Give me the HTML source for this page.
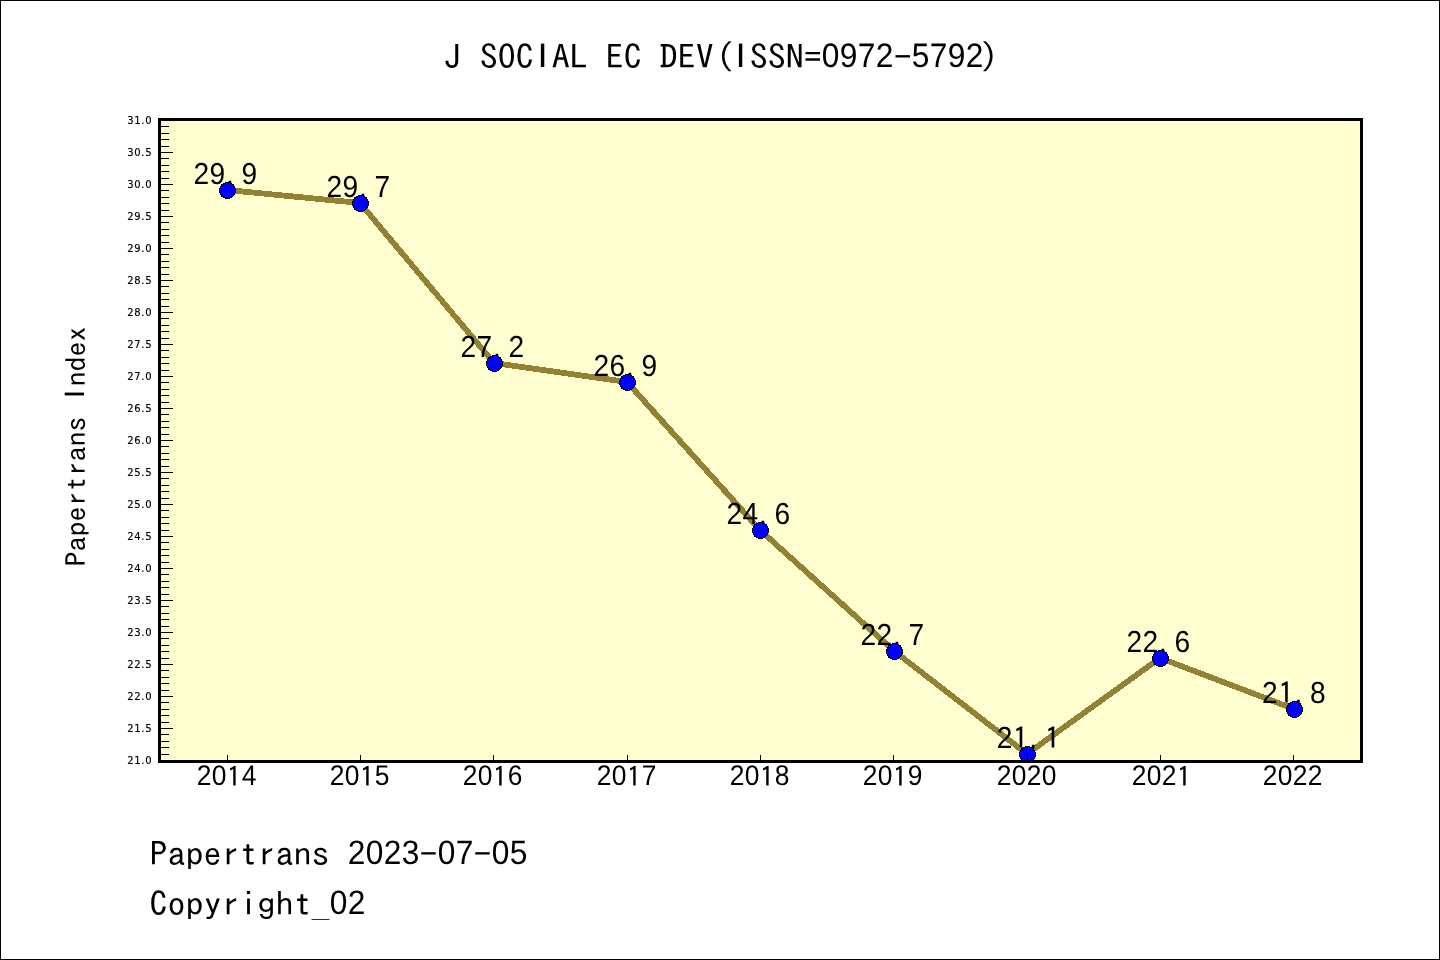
<!DOCTYPE html>
<html lang="en">
<head>
<meta charset="utf-8">
<title>J SOCIAL EC DEV(ISSN=0972-5792)</title>
<style>
html,body{margin:0;padding:0;background:#fff;}
body{width:1440px;height:960px;overflow:hidden;position:relative;}
svg{position:absolute;left:0;top:0;display:block;}
text{white-space:pre;fill:#000;}
.cj{font-family:"IPAGothic", "Liberation Mono", monospace;text-rendering:geometricPrecision;}
.lb{font-family:"Liberation Sans","IPAGothic",sans-serif;}
.dv{font-family:"DejaVu Sans","Liberation Sans",sans-serif;stroke:#000;stroke-width:0.15px;}
</style>
</head>
<body>
<svg width="1440" height="960" viewBox="0 0 1440 960">
<defs><clipPath id="plot"><rect x="161" y="121" width="1199" height="639"/></clipPath></defs>

<!-- page frame and plot background -->
<rect x="0.5" y="0.5" width="1439" height="959" fill="#ffffff" stroke="#000" stroke-width="1" shape-rendering="crispEdges"/>
<rect x="158" y="118" width="1205" height="645" fill="#fffed0" shape-rendering="crispEdges"/>
<!-- data line -->
<polyline points="227,190 360,203 494,363 627,382 760,530 894,651 1027,754 1160,658 1294,709" fill="none" stroke="#948234" stroke-width="5.8" stroke-linejoin="round" shape-rendering="crispEdges" clip-path="url(#plot)"/>
<!-- value labels -->
<text class="cj" font-size="32" transform="matrix(1 0 0 0.9328 0 185.42)"><tspan class="lb" font-size="32.57" x="193.57 209.57 226.04 241.57" y="-1.62" textLength="54.81" lengthAdjust="spacingAndGlyphs">29.9</tspan></text>
<text class="cj" font-size="32" transform="matrix(1 0 0 0.9328 0 198.42)"><tspan class="lb" font-size="32.57" x="326.57 342.57 359.04 374.57" y="-1.62" textLength="54.81" lengthAdjust="spacingAndGlyphs">29.7</tspan></text>
<text class="cj" font-size="32" transform="matrix(1 0 0 0.9328 0 358.42)"><tspan class="lb" font-size="32.57" x="460.57 476.57 493.04 508.57" y="-1.62" textLength="54.81" lengthAdjust="spacingAndGlyphs">27.2</tspan></text>
<text class="cj" font-size="32" transform="matrix(1 0 0 0.9328 0 377.42)"><tspan class="lb" font-size="32.57" x="593.57 609.57 626.04 641.57" y="-1.62" textLength="54.81" lengthAdjust="spacingAndGlyphs">26.9</tspan></text>
<text class="cj" font-size="32" transform="matrix(1 0 0 0.9328 0 525.42)"><tspan class="lb" font-size="32.57" x="726.57 742.57 759.04 774.57" y="-1.62" textLength="54.81" lengthAdjust="spacingAndGlyphs">24.6</tspan></text>
<text class="cj" font-size="32" transform="matrix(1 0 0 0.9328 0 646.42)"><tspan class="lb" font-size="32.57" x="860.57 876.57 893.04 908.57" y="-1.62" textLength="54.81" lengthAdjust="spacingAndGlyphs">22.7</tspan></text>
<text class="cj" font-size="32" transform="matrix(1 0 0 0.9328 0 749.42)"><tspan class="lb" font-size="32.57" x="996.67" y="-1.62" textLength="15.66" lengthAdjust="spacingAndGlyphs">2</tspan><tspan x="1012.5" y="0">1</tspan><tspan class="lb" font-size="32.57" x="1029.14" y="-1.62" textLength="7.82" lengthAdjust="spacingAndGlyphs">.</tspan><tspan x="1044.5" y="0">1</tspan></text>
<text class="cj" font-size="32" transform="matrix(1 0 0 0.9328 0 653.42)"><tspan class="lb" font-size="32.57" x="1126.57 1142.57 1159.04 1174.57" y="-1.62" textLength="54.81" lengthAdjust="spacingAndGlyphs">22.6</tspan></text>
<text class="cj" font-size="32" transform="matrix(1 0 0 0.9328 0 704.42)"><tspan class="lb" font-size="32.57" x="1262.12" y="-1.62" textLength="15.66" lengthAdjust="spacingAndGlyphs">2</tspan><tspan x="1277.95" y="0">1</tspan><tspan class="lb" font-size="32.57" x="1294.59 1310.12" y="-1.62" textLength="23.48" lengthAdjust="spacingAndGlyphs">.8</tspan></text>
<!-- markers -->
<g fill="#0000ff" stroke="#000" stroke-width="1" shape-rendering="crispEdges" clip-path="url(#plot)">
<circle cx="227.5" cy="190.5" r="8"/>
<circle cx="360.5" cy="203.5" r="8"/>
<circle cx="494.5" cy="363.5" r="8"/>
<circle cx="627.5" cy="382.5" r="8"/>
<circle cx="760.5" cy="530.5" r="8"/>
<circle cx="894.5" cy="651.5" r="8"/>
<circle cx="1027.5" cy="754.5" r="8"/>
<circle cx="1160.5" cy="658.5" r="8"/>
<circle cx="1294.5" cy="709.5" r="8"/>
</g>
<!-- axes frame and ticks -->
<rect x="159.5" y="119.5" width="1202" height="642" fill="none" stroke="#000" stroke-width="3" shape-rendering="crispEdges"/>
<g stroke="#000" stroke-width="1" shape-rendering="crispEdges">
<line x1="161" y1="126.5" x2="169" y2="126.5"/>
<line x1="161" y1="133.5" x2="169" y2="133.5"/>
<line x1="161" y1="139.5" x2="169" y2="139.5"/>
<line x1="161" y1="146.5" x2="169" y2="146.5"/>
<line x1="161" y1="152.5" x2="173" y2="152.5"/>
<line x1="161" y1="158.5" x2="169" y2="158.5"/>
<line x1="161" y1="165.5" x2="169" y2="165.5"/>
<line x1="161" y1="171.5" x2="169" y2="171.5"/>
<line x1="161" y1="178.5" x2="169" y2="178.5"/>
<line x1="161" y1="184.5" x2="173" y2="184.5"/>
<line x1="161" y1="190.5" x2="169" y2="190.5"/>
<line x1="161" y1="197.5" x2="169" y2="197.5"/>
<line x1="161" y1="203.5" x2="169" y2="203.5"/>
<line x1="161" y1="210.5" x2="169" y2="210.5"/>
<line x1="161" y1="216.5" x2="173" y2="216.5"/>
<line x1="161" y1="222.5" x2="169" y2="222.5"/>
<line x1="161" y1="229.5" x2="169" y2="229.5"/>
<line x1="161" y1="235.5" x2="169" y2="235.5"/>
<line x1="161" y1="242.5" x2="169" y2="242.5"/>
<line x1="161" y1="248.5" x2="173" y2="248.5"/>
<line x1="161" y1="254.5" x2="169" y2="254.5"/>
<line x1="161" y1="261.5" x2="169" y2="261.5"/>
<line x1="161" y1="267.5" x2="169" y2="267.5"/>
<line x1="161" y1="274.5" x2="169" y2="274.5"/>
<line x1="161" y1="280.5" x2="173" y2="280.5"/>
<line x1="161" y1="286.5" x2="169" y2="286.5"/>
<line x1="161" y1="293.5" x2="169" y2="293.5"/>
<line x1="161" y1="299.5" x2="169" y2="299.5"/>
<line x1="161" y1="306.5" x2="169" y2="306.5"/>
<line x1="161" y1="312.5" x2="173" y2="312.5"/>
<line x1="161" y1="318.5" x2="169" y2="318.5"/>
<line x1="161" y1="325.5" x2="169" y2="325.5"/>
<line x1="161" y1="331.5" x2="169" y2="331.5"/>
<line x1="161" y1="338.5" x2="169" y2="338.5"/>
<line x1="161" y1="344.5" x2="173" y2="344.5"/>
<line x1="161" y1="350.5" x2="169" y2="350.5"/>
<line x1="161" y1="357.5" x2="169" y2="357.5"/>
<line x1="161" y1="363.5" x2="169" y2="363.5"/>
<line x1="161" y1="370.5" x2="169" y2="370.5"/>
<line x1="161" y1="376.5" x2="173" y2="376.5"/>
<line x1="161" y1="382.5" x2="169" y2="382.5"/>
<line x1="161" y1="389.5" x2="169" y2="389.5"/>
<line x1="161" y1="395.5" x2="169" y2="395.5"/>
<line x1="161" y1="402.5" x2="169" y2="402.5"/>
<line x1="161" y1="408.5" x2="173" y2="408.5"/>
<line x1="161" y1="414.5" x2="169" y2="414.5"/>
<line x1="161" y1="421.5" x2="169" y2="421.5"/>
<line x1="161" y1="427.5" x2="169" y2="427.5"/>
<line x1="161" y1="434.5" x2="169" y2="434.5"/>
<line x1="161" y1="440.5" x2="173" y2="440.5"/>
<line x1="161" y1="446.5" x2="169" y2="446.5"/>
<line x1="161" y1="453.5" x2="169" y2="453.5"/>
<line x1="161" y1="459.5" x2="169" y2="459.5"/>
<line x1="161" y1="466.5" x2="169" y2="466.5"/>
<line x1="161" y1="472.5" x2="173" y2="472.5"/>
<line x1="161" y1="478.5" x2="169" y2="478.5"/>
<line x1="161" y1="485.5" x2="169" y2="485.5"/>
<line x1="161" y1="491.5" x2="169" y2="491.5"/>
<line x1="161" y1="498.5" x2="169" y2="498.5"/>
<line x1="161" y1="504.5" x2="173" y2="504.5"/>
<line x1="161" y1="510.5" x2="169" y2="510.5"/>
<line x1="161" y1="517.5" x2="169" y2="517.5"/>
<line x1="161" y1="523.5" x2="169" y2="523.5"/>
<line x1="161" y1="530.5" x2="169" y2="530.5"/>
<line x1="161" y1="536.5" x2="173" y2="536.5"/>
<line x1="161" y1="542.5" x2="169" y2="542.5"/>
<line x1="161" y1="549.5" x2="169" y2="549.5"/>
<line x1="161" y1="555.5" x2="169" y2="555.5"/>
<line x1="161" y1="562.5" x2="169" y2="562.5"/>
<line x1="161" y1="568.5" x2="173" y2="568.5"/>
<line x1="161" y1="574.5" x2="169" y2="574.5"/>
<line x1="161" y1="581.5" x2="169" y2="581.5"/>
<line x1="161" y1="587.5" x2="169" y2="587.5"/>
<line x1="161" y1="594.5" x2="169" y2="594.5"/>
<line x1="161" y1="600.5" x2="173" y2="600.5"/>
<line x1="161" y1="606.5" x2="169" y2="606.5"/>
<line x1="161" y1="613.5" x2="169" y2="613.5"/>
<line x1="161" y1="619.5" x2="169" y2="619.5"/>
<line x1="161" y1="626.5" x2="169" y2="626.5"/>
<line x1="161" y1="632.5" x2="173" y2="632.5"/>
<line x1="161" y1="638.5" x2="169" y2="638.5"/>
<line x1="161" y1="645.5" x2="169" y2="645.5"/>
<line x1="161" y1="651.5" x2="169" y2="651.5"/>
<line x1="161" y1="658.5" x2="169" y2="658.5"/>
<line x1="161" y1="664.5" x2="173" y2="664.5"/>
<line x1="161" y1="670.5" x2="169" y2="670.5"/>
<line x1="161" y1="677.5" x2="169" y2="677.5"/>
<line x1="161" y1="683.5" x2="169" y2="683.5"/>
<line x1="161" y1="690.5" x2="169" y2="690.5"/>
<line x1="161" y1="696.5" x2="173" y2="696.5"/>
<line x1="161" y1="702.5" x2="169" y2="702.5"/>
<line x1="161" y1="709.5" x2="169" y2="709.5"/>
<line x1="161" y1="715.5" x2="169" y2="715.5"/>
<line x1="161" y1="722.5" x2="169" y2="722.5"/>
<line x1="161" y1="728.5" x2="173" y2="728.5"/>
<line x1="161" y1="734.5" x2="169" y2="734.5"/>
<line x1="161" y1="741.5" x2="169" y2="741.5"/>
<line x1="161" y1="747.5" x2="169" y2="747.5"/>
<line x1="161" y1="754.5" x2="169" y2="754.5"/>
<line x1="227.5" y1="755" x2="227.5" y2="760"/>
<line x1="360.5" y1="755" x2="360.5" y2="760"/>
<line x1="493.5" y1="755" x2="493.5" y2="760"/>
<line x1="627.5" y1="755" x2="627.5" y2="760"/>
<line x1="760.5" y1="755" x2="760.5" y2="760"/>
<line x1="893.5" y1="755" x2="893.5" y2="760"/>
<line x1="1027.5" y1="755" x2="1027.5" y2="760"/>
<line x1="1160.5" y1="755" x2="1160.5" y2="760"/>
<line x1="1293.5" y1="755" x2="1293.5" y2="760"/>
</g>
<!-- y tick labels -->
<g class="dv" font-size="10" text-anchor="end" letter-spacing="0.7">
<text x="152.3" y="123.9">31.0</text>
<text x="152.3" y="155.9">30.5</text>
<text x="152.3" y="187.9">30.0</text>
<text x="152.3" y="219.9">29.5</text>
<text x="152.3" y="251.9">29.0</text>
<text x="152.3" y="283.9">28.5</text>
<text x="152.3" y="315.9">28.0</text>
<text x="152.3" y="347.9">27.5</text>
<text x="152.3" y="379.9">27.0</text>
<text x="152.3" y="411.9">26.5</text>
<text x="152.3" y="443.9">26.0</text>
<text x="152.3" y="475.9">25.5</text>
<text x="152.3" y="507.9">25.0</text>
<text x="152.3" y="539.9">24.5</text>
<text x="152.3" y="571.9">24.0</text>
<text x="152.3" y="603.9">23.5</text>
<text x="152.3" y="635.9">23.0</text>
<text x="152.3" y="667.9">22.5</text>
<text x="152.3" y="699.9">22.0</text>
<text x="152.3" y="731.9">21.5</text>
<text x="152.3" y="763.9">21.0</text>
</g>
<!-- x tick labels -->
<text class="cj" font-size="30" transform="matrix(1 0 0 0.9307 0 786.52)"><tspan class="lb" font-size="30.53" x="196.76 211.76" y="-1.52" textLength="29.36" lengthAdjust="spacingAndGlyphs">20</tspan><tspan x="226.6" y="0">1</tspan><tspan class="lb" font-size="30.53" x="241.76" y="-1.52" textLength="14.68" lengthAdjust="spacingAndGlyphs">4</tspan></text>
<text class="cj" font-size="30" transform="matrix(1 0 0 0.9307 0 786.52)"><tspan class="lb" font-size="30.53" x="329.76 344.76" y="-1.52" textLength="29.36" lengthAdjust="spacingAndGlyphs">20</tspan><tspan x="359.6" y="0">1</tspan><tspan class="lb" font-size="30.53" x="374.76" y="-1.52" textLength="14.68" lengthAdjust="spacingAndGlyphs">5</tspan></text>
<text class="cj" font-size="30" transform="matrix(1 0 0 0.9307 0 786.52)"><tspan class="lb" font-size="30.53" x="462.76 477.76" y="-1.52" textLength="29.36" lengthAdjust="spacingAndGlyphs">20</tspan><tspan x="492.6" y="0">1</tspan><tspan class="lb" font-size="30.53" x="507.76" y="-1.52" textLength="14.68" lengthAdjust="spacingAndGlyphs">6</tspan></text>
<text class="cj" font-size="30" transform="matrix(1 0 0 0.9307 0 786.52)"><tspan class="lb" font-size="30.53" x="596.76 611.76" y="-1.52" textLength="29.36" lengthAdjust="spacingAndGlyphs">20</tspan><tspan x="626.6" y="0">1</tspan><tspan class="lb" font-size="30.53" x="641.76" y="-1.52" textLength="14.68" lengthAdjust="spacingAndGlyphs">7</tspan></text>
<text class="cj" font-size="30" transform="matrix(1 0 0 0.9307 0 786.52)"><tspan class="lb" font-size="30.53" x="729.76 744.76" y="-1.52" textLength="29.36" lengthAdjust="spacingAndGlyphs">20</tspan><tspan x="759.6" y="0">1</tspan><tspan class="lb" font-size="30.53" x="774.76" y="-1.52" textLength="14.68" lengthAdjust="spacingAndGlyphs">8</tspan></text>
<text class="cj" font-size="30" transform="matrix(1 0 0 0.9307 0 786.52)"><tspan class="lb" font-size="30.53" x="862.76 877.76" y="-1.52" textLength="29.36" lengthAdjust="spacingAndGlyphs">20</tspan><tspan x="892.6" y="0">1</tspan><tspan class="lb" font-size="30.53" x="907.76" y="-1.52" textLength="14.68" lengthAdjust="spacingAndGlyphs">9</tspan></text>
<text class="cj" font-size="30" transform="matrix(1 0 0 0.9307 0 786.52)"><tspan class="lb" font-size="30.53" x="996.76 1011.76 1026.76 1041.76" y="-1.52" textLength="58.73" lengthAdjust="spacingAndGlyphs">2020</tspan></text>
<text class="cj" font-size="30" transform="matrix(1 0 0 0.9307 0 786.52)"><tspan class="lb" font-size="30.53" x="1131.76 1146.76 1161.76" y="-1.52" textLength="44.05" lengthAdjust="spacingAndGlyphs">202</tspan><tspan x="1176.6" y="0">1</tspan></text>
<text class="cj" font-size="30" transform="matrix(1 0 0 0.9307 0 786.52)"><tspan class="lb" font-size="30.53" x="1262.76 1277.76 1292.76 1307.76" y="-1.52" textLength="58.73" lengthAdjust="spacingAndGlyphs">2022</tspan></text>
<!-- title -->
<text class="cj" font-size="36" transform="matrix(1 0 0 0.9283 0 69.1)"><tspan x="443.65 461.65 479.65 497.65 515.65" y="0">J SOC</tspan><tspan class="lb" font-size="36.64" x="537.56" y="-1.83">I</tspan><tspan x="551.65 569.65 587.65 605.65 623.65 641.65 659.65 677.65 695.65 716.15" y="0">AL EC DEV(</tspan><tspan class="lb" font-size="36.64" x="735.56" y="-1.83">I</tspan><tspan x="749.65 767.65 785.65 803.65" y="0">SSN=</tspan><tspan class="lb" font-size="36.64" x="821.84 839.84 857.84 875.84" y="-1.83" textLength="70.48" lengthAdjust="spacingAndGlyphs">0972</tspan><tspan x="893.65" y="0">-</tspan><tspan class="lb" font-size="36.64" x="911.84 929.84 947.84 965.84" y="-1.83" textLength="70.48" lengthAdjust="spacingAndGlyphs">5792</tspan><tspan x="980.15" y="0">)</tspan></text>
<!-- y axis label -->
<text class="cj" font-size="30" transform="translate(84.4 566.5) rotate(-90) matrix(1 0 0 0.9188 0 1.4)"><tspan x="0 15 30 45 60 75 90 105 120 135 150" y="0">Papertrans </tspan><tspan class="lb" font-size="30.53" x="168.26" y="-1.52">I</tspan><tspan x="180 195 210 225" y="0">ndex</tspan></text>
<!-- footer -->
<text class="cj" font-size="36" transform="matrix(1 0 0 0.9243 0 865.89)"><tspan x="149.5 167.5 185.5 203.5 221.5 239.5 257.5 275.5 293.5 311.5 329.5" y="0">Papertrans </tspan><tspan class="lb" font-size="36.64" x="347.69 365.69 383.69 401.69" y="-1.83" textLength="70.48" lengthAdjust="spacingAndGlyphs">2023</tspan><tspan x="419.5" y="0">-</tspan><tspan class="lb" font-size="36.64" x="437.69 455.69" y="-1.83" textLength="35.24" lengthAdjust="spacingAndGlyphs">07</tspan><tspan x="473.5" y="0">-</tspan><tspan class="lb" font-size="36.64" x="491.69 509.69" y="-1.83" textLength="35.24" lengthAdjust="spacingAndGlyphs">05</tspan></text>
<text class="cj" font-size="36" transform="matrix(1 0 0 0.9243 0 915.79)"><tspan x="149.5 167.5 185.5 203.5 221.5 239.5 257.5 275.5 293.5 311.5" y="0">Copyright_</tspan><tspan class="lb" font-size="36.64" x="329.69 347.69" y="-1.83" textLength="35.24" lengthAdjust="spacingAndGlyphs">02</tspan></text>
</svg>
</body>
</html>
